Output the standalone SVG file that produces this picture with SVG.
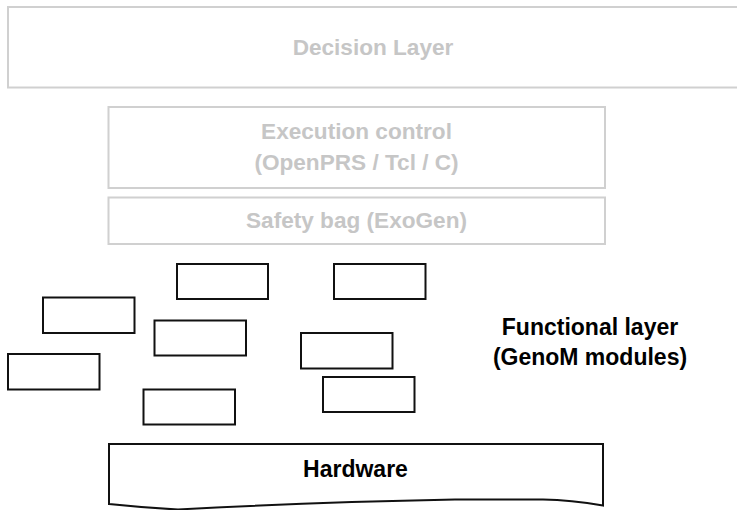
<svg xmlns="http://www.w3.org/2000/svg" width="737" height="510" viewBox="0 0 737 510">
  <style>
    .layer { fill: #ffffff; stroke: #d0d0d0; stroke-width: 2; }
    .layer-text { font-family: "Liberation Sans", Arial, Helvetica, sans-serif; font-weight: bold; font-size: 22.6px; fill: #c6c6c6; text-anchor: middle; }
    .module { fill: #ffffff; stroke: #111111; stroke-width: 2; }
    .dark-text { font-family: "Liberation Sans", Arial, Helvetica, sans-serif; font-weight: bold; font-size: 23px; fill: #000000; text-anchor: middle; }
  </style>
  <rect width="737" height="510" fill="#ffffff"/>

  <!-- Upper software layers -->
  <g id="decision-layer">
    <rect class="layer" x="8" y="7" width="740" height="80.5"/>
    <text class="layer-text" x="373" y="55">Decision Layer</text>
  </g>
  <g id="execution-control">
    <rect class="layer" x="108.5" y="107" width="496.5" height="81"/>
    <text class="layer-text" x="356.5" y="139">Execution control</text>
    <text class="layer-text" x="356.5" y="170">(OpenPRS / Tcl / C)</text>
  </g>
  <g id="safety-bag">
    <rect class="layer" x="108.5" y="197.5" width="496.5" height="46.5"/>
    <text class="layer-text" x="356.5" y="228">Safety bag (ExoGen)</text>
  </g>

  <!-- GenoM modules of the functional layer -->
  <g id="module-1"><rect class="module" x="177" y="264" width="91" height="35"/></g>
  <g id="module-2"><rect class="module" x="334" y="264" width="91.5" height="35"/></g>
  <g id="module-3"><rect class="module" x="43" y="297.5" width="91.5" height="35.5"/></g>
  <g id="module-4"><rect class="module" x="154.5" y="320.5" width="91.5" height="35"/></g>
  <g id="module-5"><rect class="module" x="301" y="333" width="91.5" height="35.5"/></g>
  <g id="module-6"><rect class="module" x="8" y="354" width="91.5" height="35.5"/></g>
  <g id="module-7"><rect class="module" x="143.5" y="389.5" width="91.5" height="35"/></g>
  <g id="module-8"><rect class="module" x="323" y="377" width="91.5" height="35"/></g>

  <g id="functional-layer-label">
    <text class="dark-text" x="590" y="335">Functional layer</text>
    <text class="dark-text" x="590" y="365">(GenoM modules)</text>
  </g>

  <!-- Hardware, drawn as a document shape with a wavy lower edge -->
  <g id="hardware">
    <path class="module" d="M109,444 H603 V505.5 C585,502.5 565,500 543,499.5 L455,499.5 C380,501 260,505 178,509.5 C150,508 128,506 109,504 Z"/>
    <text class="dark-text" x="355.5" y="477">Hardware</text>
  </g>

  <g id="connectors"/>
</svg>
